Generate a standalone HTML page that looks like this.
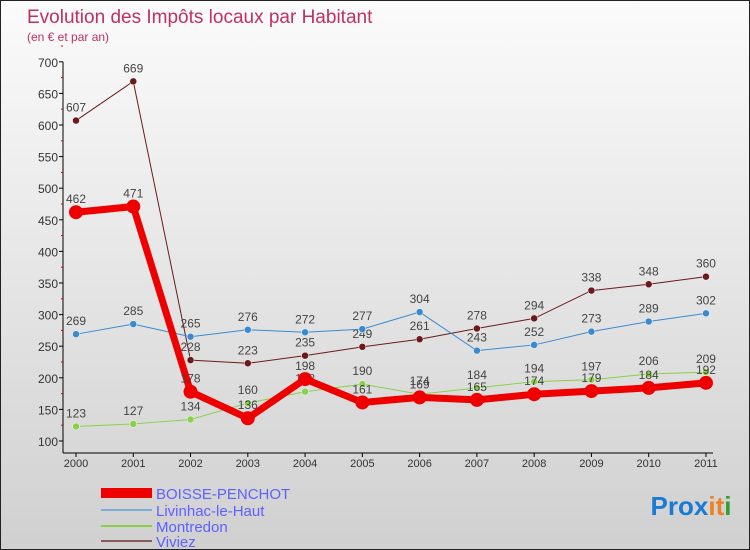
<!DOCTYPE html>
<html><head><meta charset="utf-8"><style>
body{margin:0}
#c{width:750px;height:550px;position:relative;background:linear-gradient(#fbfbfb,#d0d0d0);font-family:"Liberation Sans",sans-serif;border:1px solid #222;box-sizing:border-box;overflow:hidden}
text{font-family:"Liberation Sans",sans-serif}
</style></head><body>
<div id="c">
<svg id="s" width="750" height="550">
<text x="26" y="22" font-size="19" fill="#c03060">Evolution des Impôts locaux par Habitant</text>
<text x="26" y="40" font-size="12" fill="#c03060">(en € et par an)</text>
<text x="690" y="514" font-size="26" font-weight="bold" text-anchor="middle"><tspan fill="#1a7ad4">Pro</tspan><tspan fill="#1a7ad4">x</tspan><tspan fill="#f08020">it</tspan><tspan fill="#30a030">i</tspan></text>
</svg>
</div>
<script>
const years=["2000","2001","2002","2003","2004","2005","2006","2007","2008","2009","2010","2011"];
const yTicks=[100,150,200,250,300,350,400,450,500,550,600,650,700];
const boisse=[462,471,178,136,198,161,169,165,174,179,184,192];
const livinhac=[269,285,265,276,272,277,304,243,252,273,289,302];
const montredon=[123,127,134,160,178,190,174,184,194,197,206,209];
const viviez=[607,669,228,223,235,249,261,278,294,338,348,360];
const names=["BOISSE-PENCHOT","Livinhac-le-Haut","Montredon","Viviez"];
const ns="http://www.w3.org/2000/svg",s=document.getElementById('s');
const X=i=>75+i*57.27, Y=v=>440-(v-100)*0.632;
function el(t,a,p){const e=document.createElementNS(ns,t);for(const k in a)e.setAttribute(k,a[k]);(p||s).appendChild(e);return e;}
let ax=el('line',{x1:62,y1:Y(700),x2:62,y2:452,stroke:'#000'});


let xa=el('line',{x1:62,y1:452,x2:712,y2:452,stroke:'#000'});


yTicks.forEach(v=>{let t=el('text',{x:57,y:Y(v)+5,'font-size':12,fill:'#333','text-anchor':'end'});t.textContent=v;


el('line',{x1:58,y1:Y(v),x2:62,y2:Y(v),stroke:'#000'});
el('line',{x1:60,y1:Y(v+25),x2:62,y2:Y(v+25),stroke:'#d00'});});
years.forEach((y,i)=>{el('line',{x1:X(i),y1:452,x2:X(i),y2:456,stroke:'#000'});let t=el('text',{x:X(i),y:466,'font-size':11,fill:'#333','text-anchor':'middle'});t.textContent=y;

});
const series=[[viviez,'#6b1a1a',1,3.5,'viviez'],[montredon,'#8ad04a',1,3.5,'montredon'],[livinhac,'#3a8ad0',1,3.5,'livinhac'],[boisse,'#ee0000',7,7,'boisse-penchot']];
series.forEach(([d,c,w,r,n])=>{let g=el('g',{});


el('polyline',{points:d.map((v,i)=>X(i)+','+Y(v)).join(' '),fill:'none',stroke:c,'stroke-width':w},g);
d.forEach((v,i)=>{let p=el('circle',{cx:X(i),cy:Y(v),r:r,fill:c,stroke:w>1?'none':'#fff','stroke-width':0.5},g);


let t=el('text',{x:X(i),y:Y(v)-9,'font-size':12,fill:'#444','text-anchor':'middle'},g);t.textContent=v;

});});
const lc=['#ee0000','#7ab0d8','#8ad04a','#8a5a5a'],lw=[10,2,2,2],ly=[492,509,525,540];
names.forEach((n,i)=>{let l=el('line',{x1:100,y1:ly[i],x2:151,y2:ly[i],stroke:lc[i],'stroke-width':lw[i]});


let t=el('text',{x:155,y:ly[i]+6,'font-size':15,fill:'#6060ff'});t.textContent=n;

});
</script>
</body></html>
